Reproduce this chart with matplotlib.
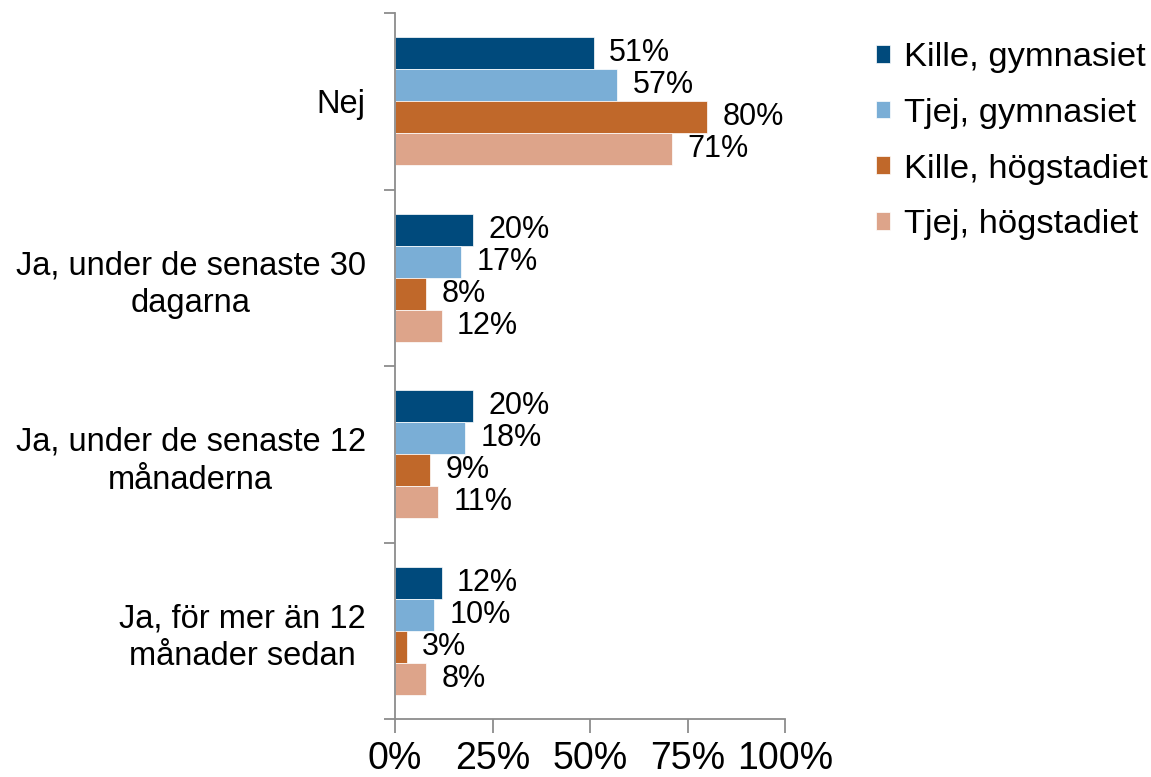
import matplotlib
matplotlib.use("Agg")
import matplotlib.pyplot as plt
import numpy as np

plt.rcParams['font.family'] = ['Liberation Sans', 'DejaVu Sans']

categories = ["Nej", "Ja, under de senaste 30\ndagarna", "Ja, under de senaste 12\nmånaderna", "Ja, för mer än 12\nmånader sedan"]
series_names = ["Kille, gymnasiet", "Tjej, gymnasiet", "Kille, högstadiet", "Tjej, högstadiet"]
kille_gymnasiet = [51, 20, 20, 12]
tjej_gymnasiet = [57, 17, 18, 10]
kille_hogstadiet = [80, 8, 9, 3]
tjej_hogstadiet = [71, 12, 11, 8]
x_ticks = [0, 25, 50, 75, 100]
x_ticklabels = ["0%", "25%", "50%", "75%", "100%"]

series = [kille_gymnasiet, tjej_gymnasiet, kille_hogstadiet, tjej_hogstadiet]
colors = ["#004A7C", "#7AAED6", "#C0682A", "#DDA48A"]

fig = plt.figure(figsize=(11.51, 7.77), dpi=100)
ax = fig.add_axes([395/1151, 1-719/777, 390/1151, 706/777])

n = len(series)
bar_h = 0.181
group = bar_h * n
y = np.arange(len(categories))
for k, (vals, c, name) in enumerate(zip(series, colors, series_names)):
    pos = y - group/2 + bar_h/2 + k*bar_h
    ax.barh(pos, vals, height=bar_h, color=c, label=name, edgecolor='white', linewidth=0.5)
    for p, v in zip(pos, vals):
        ax.annotate(f"{v}%", xy=(v, p), xytext=(11, 0), textcoords='offset points',
                    ha='left', va='center', fontsize=22, color='black')

ax.set_xlim(0, 100)
ax.set_ylim(len(categories)-0.5, -0.5)
ax.set_xticks(x_ticks)
ax.set_xticklabels(x_ticklabels, fontsize=27)
ax.set_yticks(np.arange(len(categories)+1) - 0.5)
ax.set_yticklabels([])
ax.set_yticks(y, minor=True)
ax.set_yticklabels(categories, minor=True, fontsize=23.5, ha='right', multialignment='center',
                   linespacing=1.3)
ax.tick_params(axis='y', which='minor', length=0, pad=21)
ax.tick_params(axis='y', which='major', length=8, width=1.3, color='#8c8c8c')
ax.tick_params(axis='x', length=10, width=1.3, color='#8c8c8c', pad=6)
for s in ['top', 'right']:
    ax.spines[s].set_visible(False)
for s in ['left', 'bottom']:
    ax.spines[s].set_color('#8c8c8c')
    ax.spines[s].set_linewidth(1.3)

leg = fig.legend(loc='upper left', bbox_to_anchor=(876/1151, 1-42/777), frameon=False,
                 fontsize=24.8, handlelength=0.42, handleheight=0.42, handletextpad=0.4,
                 labelspacing=0.72, borderaxespad=0, borderpad=0)

fig.savefig("out.png", dpi=100)
